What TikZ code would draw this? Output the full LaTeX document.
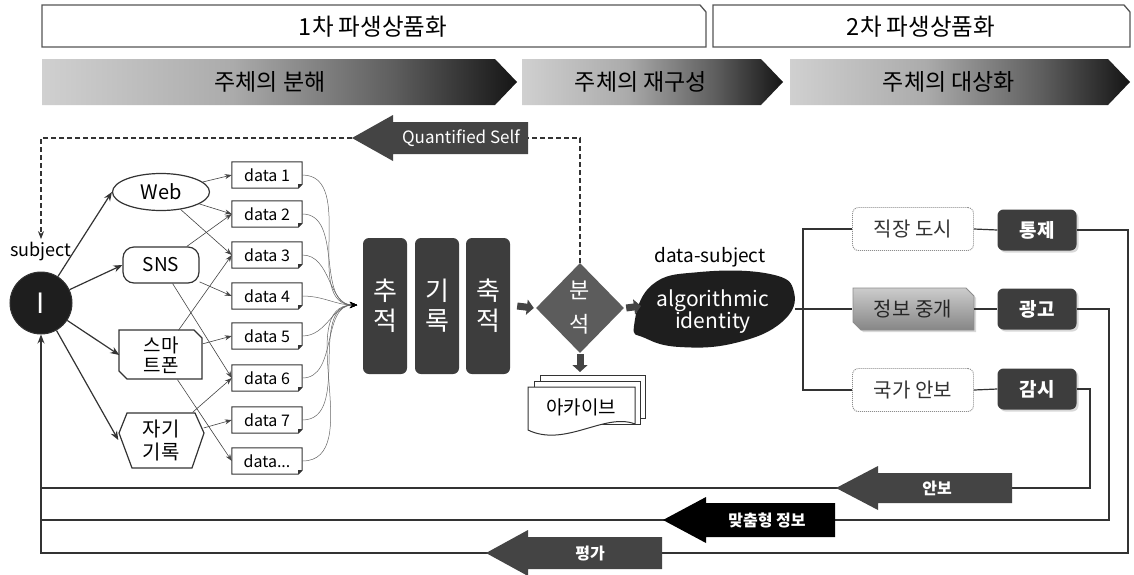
\documentclass[tikz,border=0pt]{standalone}
\usepackage{fontspec}
\setmainfont{Noto Sans CJK KR}
\usetikzlibrary{shapes.geometric,arrows.meta,calc,shadows}

\definecolor{ink}{HTML}{333333}
\definecolor{barfill}{HTML}{3D3D3D}
\definecolor{rhomb}{HTML}{5C5C5C}
\definecolor{flow}{HTML}{444444}
\definecolor{fadelight}{HTML}{D0D0D0}
\definecolor{fademid}{HTML}{ABABAB}
\definecolor{fadedark}{HTML}{5E5E5E}
\definecolor{fadeend}{HTML}{151515}
\definecolor{dotline}{HTML}{8C8C8C}
\definecolor{subjfill}{HTML}{1E1E1E}
\definecolor{frameline}{HTML}{555555}

% light-to-dark fade used by the three stage arrows
\pgfdeclarehorizontalshading{stagefade}{100bp}{%
  color(0bp)=(fadelight); color(25bp)=(fadelight); color(45bp)=(fademid);
  color(62bp)=(fadedark); color(75bp)=(fadeend); color(100bp)=(fadeend)}

% frame of a data card: rectangle with a folded lower right corner
\newcommand{\docframe}[1]{%
  \draw[ink, line width=1pt] (#1.north west) -- (#1.north east)
    -- ([yshift=4pt]#1.south east) -- ([xshift=-4pt]#1.south east)
    -- (#1.south west) -- cycle;
  \fill[ink] ([yshift=4pt]#1.south east) -- ([xshift=-4pt]#1.south east)
    -- ([xshift=-4pt,yshift=4pt]#1.south east) -- cycle;}

% left-pointing block arrow: tip x, centre y, head base x, tail x, body half, head half, colour
\newcommand{\leftblock}[7]{%
  \fill[#7] (#1,#2) -- (#3,#2-#6) -- (#3,#2-#5) -- (#4,#2-#5)
    -- (#4,#2+#5) -- (#3,#2+#5) -- (#3,#2+#6) -- cycle;}

\begin{document}
\begin{tikzpicture}[x=1pt,y=-1pt,
  hdrtxt/.style={font=\fontsize{23.5}{27}\selectfont, text=black},
  stagetxt/.style={font=\fontsize{23}{27}\selectfont, text=black},
  srcshape/.style={draw=ink, line width=1.2pt, fill=white, inner sep=0pt},
  databox/.style={minimum width=70pt, minimum height=26pt, inner sep=0pt,
    font=\fontsize{16}{18}\selectfont},
  feed/.style={draw=flow, line width=0.6pt, -{Stealth[length=7pt,width=5pt]}},
  merge/.style={draw=ink!75, line width=0.5pt, -{Stealth[length=7pt,width=6pt,color=black]}},
  reach/.style={draw=ink, line width=1.2pt, -{Stealth[length=9pt,width=7pt]}},
  phasebar/.style={fill=barfill, rounded corners=6pt, minimum width=44pt,
    minimum height=136pt, inner sep=0pt, text=white, align=center,
    font=\fontsize{26}{30}\selectfont},
  blk/.style={flow, line width=7pt, -{Triangle[length=7pt,width=15pt]}},
  dashlink/.style={draw=ink, line width=1.2pt, dash pattern=on 5pt off 3pt},
  usebox/.style={draw=dotline, dash pattern=on 1pt off 1pt, line width=0.9pt,
    rounded corners=6pt, minimum width=121pt, minimum height=43pt, inner sep=0pt,
    fill=white, font=\fontsize{20}{24}\selectfont, text=ink},
  effbox/.style={fill=barfill, rounded corners=6pt, minimum width=79pt,
    minimum height=41pt, inner sep=0pt, text=white,
    font=\bfseries\fontsize{19}{22}\selectfont,
    drop shadow={shadow xshift=2pt, shadow yshift=-2pt, opacity=0.3}},
  treeline/.style={draw=ink, line width=1.2pt},
  arrowlbl/.style={text=white, font=\bfseries\fontsize{16}{19}\selectfont}]

\fill[white] (0,0) rectangle (1134,574);
\useasboundingbox (0,0) rectangle (1134,574);

% ---- phase headers ----
\draw[frameline, line width=1.3pt, fill=white]
  (42,5) -- (700,5) -- (706,12) -- (706,47) -- (42,47) -- cycle;
\draw[frameline, line width=1.3pt, fill=white]
  (713,5) -- (1124,5) -- (1130,12) -- (1130,47) -- (713,47) -- cycle;
\node[hdrtxt] (phase1) at (373,27) {1차 파생상품화};
\node[hdrtxt] (phase2) at (921,27) {2차 파생상품화};

% ---- stage arrows ----
\shade[shading=stagefade] (42,59) -- (495,59) -- (517,82) -- (495,105) -- (42,105) -- cycle;
\shade[shading=stagefade] (522,59) -- (761,59) -- (783,82) -- (761,105) -- (522,105) -- cycle;
\shade[shading=stagefade] (790,59) -- (1108,59) -- (1130,82) -- (1108,105) -- (790,105) -- cycle;
\node[stagetxt] (stage1) at (270,82) {주체의 분해};
\node[stagetxt] (stage2) at (641,82) {주체의 재구성};
\node[stagetxt] (stage3) at (949,82) {주체의 대상화};

% ---- feedback: Quantified Self ----
\leftblock{352}{138}{393}{528}{16}{23}{flow}
\node[text=white, font=\fontsize{17}{20}\selectfont] (qs) at (461,138) {Quantified Self};
\coordinate (qstip) at (352,138);
\coordinate (qstail) at (528,138);

% ---- the subject ----
\node[circle, fill=subjfill, draw=ink, line width=1pt, minimum size=62pt, inner sep=0pt,
  text=white, font=\fontsize{28}{30}\selectfont] (me) at (41,303) {I};
\node[font=\fontsize{18}{21}\selectfont] (subj) at (41,252) {subject};

% ---- sources ----
\node[srcshape, ellipse, minimum width=97pt, minimum height=37pt,
  font=\fontsize{20}{24}\selectfont] (web) at (161,192) {Web};
\node[srcshape, rectangle, rounded corners=11pt, minimum width=76pt, minimum height=36pt,
  font=\fontsize{19}{23}\selectfont] (sns) at (161,265) {SNS};
\draw[srcshape] (119,330) -- (194,330) -- (202,338) -- (202,379) -- (127,379) -- (119,371) -- cycle;
\node[minimum width=83pt, minimum height=49pt, inner sep=0pt, align=center,
  font=\fontsize{19}{20}\selectfont] (phone) at (161,355) {스마\\트폰};
\draw[srcshape] (127,413) -- (195,413) -- (204,433) -- (192,468) -- (132,468) -- (119,433) -- cycle;
\node[minimum width=85pt, minimum height=55pt, inner sep=0pt, align=center,
  font=\fontsize{20}{23}\selectfont] (selflog) at (161,440) {자기\\기록};

% ---- data cards ----
\node[databox] (d1) at (267,175) {data 1};
\node[databox] (d2) at (267,214) {data 2};
\node[databox] (d3) at (267,255) {data 3};
\node[databox] (d4) at (267,296) {data 4};
\node[databox] (d5) at (267,336) {data 5};
\node[databox] (d6) at (267,378) {data 6};
\node[databox] (d7) at (267,420) {data 7};
\node[databox] (d8) at (267,461) {data...};
\docframe{d1}\docframe{d2}\docframe{d3}\docframe{d4}
\docframe{d5}\docframe{d6}\docframe{d7}\docframe{d8}

% subject reaches each source
\foreach \s in {web,sns,phone,selflog}
  \draw[reach] (me) -- (\s.west);

% sources feed data cards
\foreach \s/\d in {web/d1,web/d2,web/d3,sns/d2,sns/d4,sns/d6,
                   phone/d3,phone/d5,phone/d8,selflog/d6,selflog/d7}
  \draw[feed] (\s) -- (\d.west);

% data cards merge
\coordinate (hub) at (357,305);
\foreach \i in {1,...,8}
  \draw[merge] (d\i.east) to[out=0,in=180] (hub);

% ---- tracking / recording / storing ----
\node[phasebar] (track) at (385,306) {추\\적};
\node[phasebar] (record) at (437,306) {기\\록};
\node[phasebar] (store) at (488,306) {축\\적};

% ---- analysis ----
\node[diamond, fill=rhomb, minimum width=88pt, minimum height=90pt, inner sep=0pt,
  text=white, align=center, font=\fontsize{22}{34}\selectfont] (bun) at (580,308) {분\\석};
\draw[blk] ([xshift=7pt]store.east) -- ([xshift=-2pt]bun.west);

\draw[dashlink] (bun.north) |- (qstail);
\draw[dashlink, -{Stealth[length=8pt,width=6pt]}] (qstip) -| (subj.north);

% archive stack
\draw[ink, line width=1pt, fill=white] (540,375) rectangle (645,418);
\draw[ink, line width=1pt, fill=white] (534,381) rectangle (640,424);
\draw[ink, line width=1pt, fill=white] (528,387) -- (635,387) -- (635,424)
  .. controls (605,412) and (565,448) .. (528,430) -- cycle;
\node[font=\fontsize{19}{22}\selectfont] (archive) at (581,407) {아카이브};
\coordinate (archtop) at (580,372);
\draw[blk] ([yshift=-1pt]bun.south) -- (archtop);

% ---- algorithmic identity ----
\fill[subjfill] plot[smooth cycle, tension=0.75] coordinates
  {(634,326) (652,285) (700,272) (770,274) (794,292) (782,322) (735,343) (680,347) (645,338)};
\node[text=white, align=center, font=\fontsize{21}{22}\selectfont] (algo) at (713,312)
  {algorithmic\\identity};
\node[font=\fontsize{19}{22}\selectfont] (dsubj) at (710,257) {data-subject};
\coordinate (blobW) at (641,306);
\coordinate (blobE) at (795,309);
\draw[blk] ([xshift=2pt]bun.east) -- (blobW);

% ---- uses of the data-subject ----
\node[usebox] (workcity) at (913,229) {직장 도시};
\shade[top color=gray!40, bottom color=gray!95, draw=dotline, line width=0.8pt,
  drop shadow={shadow xshift=2pt, shadow yshift=-2pt, opacity=0.3}]
  (853,288) -- (966,288) -- (974,296) -- (974,330) -- (861,330) -- (853,322) -- cycle;
\node[minimum width=121pt, minimum height=42pt, inner sep=0pt, text=black!85,
  font=\fontsize{20}{24}\selectfont] (broker) at (913,309) {정보 중개};
\node[usebox] (security) at (913,390) {국가 안보};

\node[effbox] (control) at (1037,230) {통제};
\node[effbox] (ads) at (1037,309) {광고};
\node[effbox] (watch) at (1037,389) {감시};

\coordinate (trunk) at (803,309);
\draw[treeline] (blobE) -- (broker.west);
\draw[treeline] (workcity.west) -| (trunk) |- (security.west);
\draw[treeline] (workcity.east) -- (control.west);
\draw[treeline] (broker.east) -- (ads.west);
\draw[treeline] (security.east) -- (watch.west);

% ---- returns to the subject ----
\coordinate (ret1) at (1090,488);
\coordinate (ret2) at (1109,520);
\coordinate (ret3) at (1128,553);
\draw[treeline] (watch.east) -| (ret1) -- (ret1 -| me);
\draw[treeline] (ads.east) -| (ret2) -- (ret2 -| me);
\draw[treeline, -{Stealth[length=9pt,width=7pt]}] (control.east) -| (ret3) -| (me.south);

\leftblock{836}{488}{878}{1012}{15}{22}{flow}
\node[arrowlbl] (anbo) at (937,488) {안보};
\leftblock{663}{520}{706}{835}{17}{23}{black}
\node[arrowlbl] (custom) at (767,520) {맞춤형 정보};
\leftblock{486}{553}{528}{662}{16}{23}{flow}
\node[arrowlbl] (rating) at (590,553) {평가};

\end{tikzpicture}
\end{document}
